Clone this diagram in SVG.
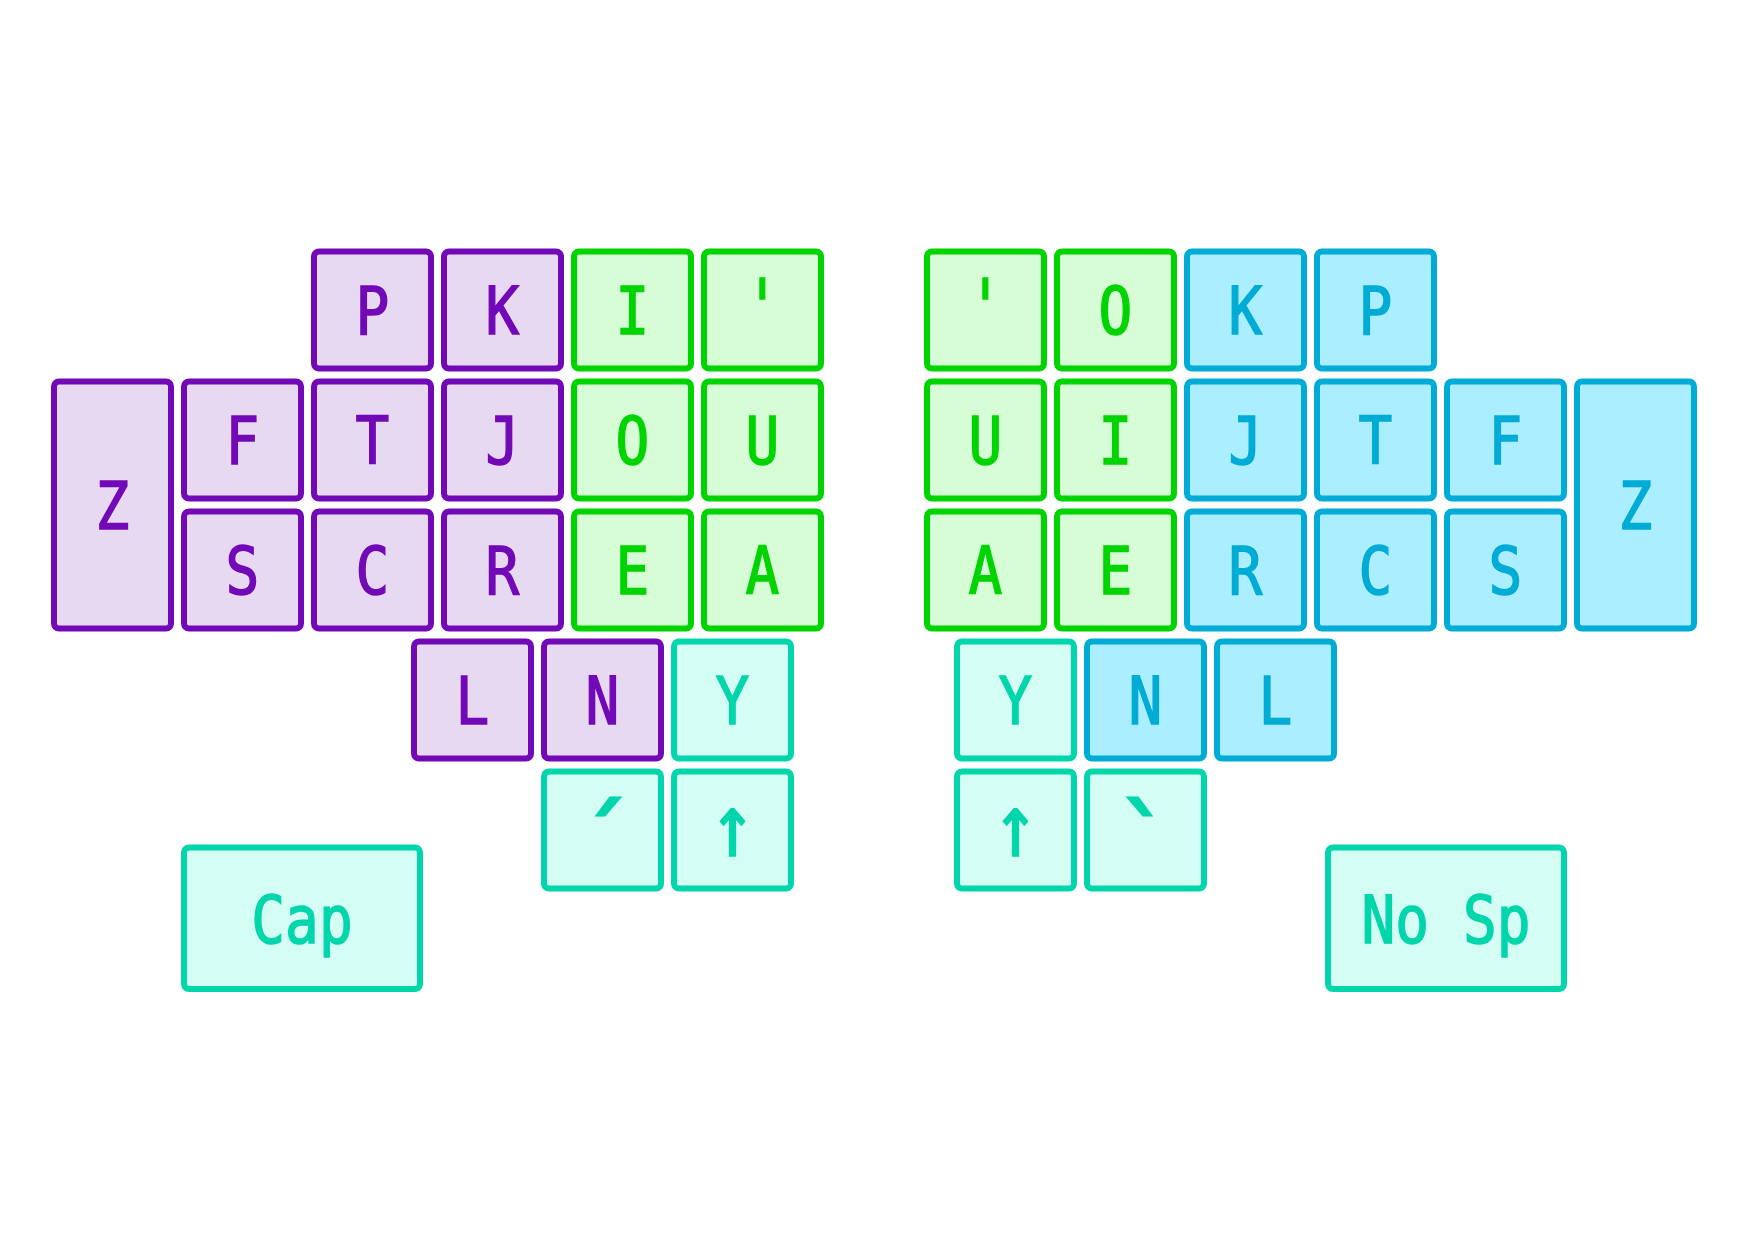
<svg xmlns="http://www.w3.org/2000/svg" width="1748" height="1240" viewBox="0 0 1748 1240">
<style>
rect{stroke-width:6;rx:5px;ry:5px}
text{font-family:"DejaVu Sans Mono","Liberation Mono",monospace;font-size:66px;text-anchor:middle;stroke-width:1.5}
text.ar{font-size:88px}
text.ac{font-size:92px;stroke-width:3}
.p rect{fill:#E8D9F3;stroke:#7209B7}.p text{fill:#7209B7;stroke:#7209B7}
.g rect{fill:#D6FDD6;stroke:#00D400}.g text{fill:#00D400;stroke:#00D400}
.t rect{fill:#D4FDF3;stroke:#00D5AB}.t text{fill:#00D5AB;stroke:#00D5AB}
.b rect{fill:#AAEEFF;stroke:#00ACD5}.b text{fill:#00ACD5;stroke:#00ACD5}
</style>
<rect width="1748" height="1240" fill="#fff" stroke="none"/>
<g id="connectors"/>
<!-- left half -->
<g id="L-P" class="p"><rect x="314" y="251.5" width="117" height="117"/><text transform="translate(372.5 334) scale(.85 1)">P</text></g>
<g id="L-K" class="p"><rect x="444" y="251.5" width="117" height="117"/><text transform="translate(502.5 334) scale(.85 1)">K</text></g>
<g id="L-I" class="g"><rect x="574" y="251.5" width="117" height="117"/><text transform="translate(632.5 334) scale(.85 1)">I</text></g>
<g id="L-apos" class="g"><rect x="704" y="251.5" width="117" height="117"/><text transform="translate(762.5 334) scale(.85 1.15)">'</text></g>
<g id="L-Z" class="p"><rect x="54" y="381.5" width="117" height="247"/><text transform="translate(112.5 529) scale(.85 1)">Z</text></g>
<g id="L-F" class="p"><rect x="184" y="381.5" width="117" height="117"/><text transform="translate(242.5 464) scale(.85 1)">F</text></g>
<g id="L-T" class="p"><rect x="314" y="381.5" width="117" height="117"/><text transform="translate(372.5 464) scale(.85 1)">T</text></g>
<g id="L-J" class="p"><rect x="444" y="381.5" width="117" height="117"/><text transform="translate(502.5 464) scale(.85 1)">J</text></g>
<g id="L-O" class="g"><rect x="574" y="381.5" width="117" height="117"/><text transform="translate(632.5 464) scale(.85 1)">O</text></g>
<g id="L-U" class="g"><rect x="704" y="381.5" width="117" height="117"/><text transform="translate(762.5 464) scale(.85 1)">U</text></g>
<g id="L-S" class="p"><rect x="184" y="511.5" width="117" height="117"/><text transform="translate(242.5 594) scale(.85 1)">S</text></g>
<g id="L-C" class="p"><rect x="314" y="511.5" width="117" height="117"/><text transform="translate(372.5 594) scale(.85 1)">C</text></g>
<g id="L-R" class="p"><rect x="444" y="511.5" width="117" height="117"/><text transform="translate(502.5 594) scale(.85 1)">R</text></g>
<g id="L-E" class="g"><rect x="574" y="511.5" width="117" height="117"/><text transform="translate(632.5 594) scale(.85 1)">E</text></g>
<g id="L-A" class="g"><rect x="704" y="511.5" width="117" height="117"/><text transform="translate(762.5 594) scale(.85 1)">A</text></g>
<g id="L-L" class="p"><rect x="414" y="641.5" width="117" height="117"/><text transform="translate(472.5 724) scale(.85 1)">L</text></g>
<g id="L-N" class="p"><rect x="544" y="641.5" width="117" height="117"/><text transform="translate(602.5 724) scale(.85 1)">N</text></g>
<g id="L-Y" class="t"><rect x="674" y="641.5" width="117" height="117"/><text transform="translate(732.5 724) scale(.85 1)">Y</text></g>
<g id="L-acute" class="t"><rect x="544" y="771.5" width="117" height="117"/><text class="ac" transform="translate(604 872)">´</text></g>
<g id="L-up" class="t"><rect x="674" y="771.5" width="117" height="117"/><text class="ar" transform="translate(732.5 856) scale(.85 1)">↑</text></g>
<g id="L-Cap" class="t"><rect x="184" y="847.5" width="236" height="141.5"/><text transform="translate(302 942.5) scale(.85 1)">Cap</text></g>
<!-- right half -->
<g id="R-apos" class="g"><rect x="927" y="251.5" width="117" height="117"/><text transform="translate(985.5 334) scale(.85 1.15)">'</text></g>
<g id="R-O" class="g"><rect x="1057" y="251.5" width="117" height="117"/><text transform="translate(1115.5 334) scale(.85 1)">O</text></g>
<g id="R-K" class="b"><rect x="1187" y="251.5" width="117" height="117"/><text transform="translate(1245.5 334) scale(.85 1)">K</text></g>
<g id="R-P" class="b"><rect x="1317" y="251.5" width="117" height="117"/><text transform="translate(1375.5 334) scale(.85 1)">P</text></g>
<g id="R-U" class="g"><rect x="927" y="381.5" width="117" height="117"/><text transform="translate(985.5 464) scale(.85 1)">U</text></g>
<g id="R-I" class="g"><rect x="1057" y="381.5" width="117" height="117"/><text transform="translate(1115.5 464) scale(.85 1)">I</text></g>
<g id="R-J" class="b"><rect x="1187" y="381.5" width="117" height="117"/><text transform="translate(1245.5 464) scale(.85 1)">J</text></g>
<g id="R-T" class="b"><rect x="1317" y="381.5" width="117" height="117"/><text transform="translate(1375.5 464) scale(.85 1)">T</text></g>
<g id="R-F" class="b"><rect x="1447" y="381.5" width="117" height="117"/><text transform="translate(1505.5 464) scale(.85 1)">F</text></g>
<g id="R-Z" class="b"><rect x="1577" y="381.5" width="117" height="247"/><text transform="translate(1635.5 529) scale(.85 1)">Z</text></g>
<g id="R-A" class="g"><rect x="927" y="511.5" width="117" height="117"/><text transform="translate(985.5 594) scale(.85 1)">A</text></g>
<g id="R-E" class="g"><rect x="1057" y="511.5" width="117" height="117"/><text transform="translate(1115.5 594) scale(.85 1)">E</text></g>
<g id="R-R" class="b"><rect x="1187" y="511.5" width="117" height="117"/><text transform="translate(1245.5 594) scale(.85 1)">R</text></g>
<g id="R-C" class="b"><rect x="1317" y="511.5" width="117" height="117"/><text transform="translate(1375.5 594) scale(.85 1)">C</text></g>
<g id="R-S" class="b"><rect x="1447" y="511.5" width="117" height="117"/><text transform="translate(1505.5 594) scale(.85 1)">S</text></g>
<g id="R-Y" class="t"><rect x="957" y="641.5" width="117" height="117"/><text transform="translate(1015.5 724) scale(.85 1)">Y</text></g>
<g id="R-N" class="b"><rect x="1087" y="641.5" width="117" height="117"/><text transform="translate(1145.5 724) scale(.85 1)">N</text></g>
<g id="R-L" class="b"><rect x="1217" y="641.5" width="117" height="117"/><text transform="translate(1275.5 724) scale(.85 1)">L</text></g>
<g id="R-up" class="t"><rect x="957" y="771.5" width="117" height="117"/><text class="ar" transform="translate(1015.5 856) scale(.85 1)">↑</text></g>
<g id="R-grave" class="t"><rect x="1087" y="771.5" width="117" height="117"/><text class="ac" transform="translate(1144 872)">`</text></g>
<g id="R-NoSp" class="t"><rect x="1328" y="847.5" width="236" height="141.5"/><text transform="translate(1446 942.5) scale(.85 1)" xml:space="preserve">No Sp</text></g>
</svg>
